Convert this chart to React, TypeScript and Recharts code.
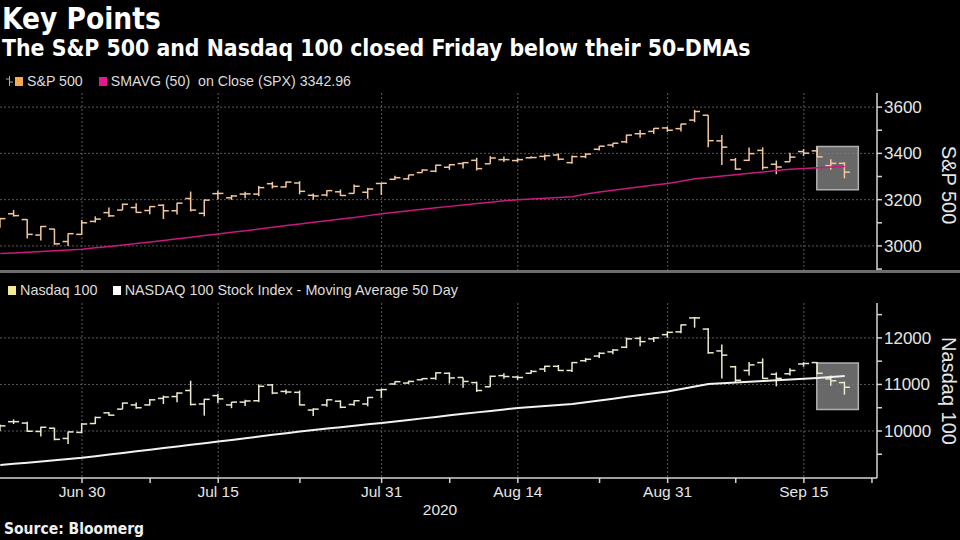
import { ComposedChart, Bar, Line, XAxis, YAxis, CartesianGrid, ReferenceArea } from 'recharts'

const TRADING_DAYS = [
  '2020-06-22', '2020-06-23', '2020-06-24', '2020-06-25', '2020-06-26', '2020-06-29', '2020-06-30',
  '2020-07-01', '2020-07-02', '2020-07-06', '2020-07-07', '2020-07-08', '2020-07-09', '2020-07-10',
  '2020-07-13', '2020-07-14', '2020-07-15', '2020-07-16', '2020-07-17', '2020-07-20', '2020-07-21',
  '2020-07-22', '2020-07-23', '2020-07-24', '2020-07-27', '2020-07-28', '2020-07-29', '2020-07-30',
  '2020-07-31', '2020-08-03', '2020-08-04', '2020-08-05', '2020-08-06', '2020-08-07', '2020-08-10',
  '2020-08-11', '2020-08-12', '2020-08-13', '2020-08-14', '2020-08-17', '2020-08-18', '2020-08-19',
  '2020-08-20', '2020-08-21', '2020-08-24', '2020-08-25', '2020-08-26', '2020-08-27', '2020-08-28',
  '2020-08-31', '2020-09-01', '2020-09-02', '2020-09-03', '2020-09-04', '2020-09-08', '2020-09-09',
  '2020-09-10', '2020-09-11', '2020-09-14', '2020-09-15', '2020-09-16', '2020-09-17', '2020-09-18',
]

// S&P 500 daily bars
const SPX_OPEN = [
  3094, 3139, 3114, 3047, 3073, 3019, 3050, 3106, 3144, 3155, 3166, 3153, 3176, 3152, 3205, 3141,
  3226, 3208, 3224, 3224, 3269, 3255, 3272, 3219, 3220, 3234, 3227, 3232, 3270, 3288, 3290, 3317,
  3323, 3340, 3356, 3370, 3355, 3373, 3369, 3381, 3387, 3393, 3360, 3386, 3418, 3436, 3450, 3485,
  3495, 3510, 3507, 3544, 3565, 3454, 3372, 3370, 3413, 3353, 3364, 3408, 3411, 3347, 3357,
]
const SPX_HIGH = [
  3121, 3155, 3115, 3086, 3074, 3054, 3112, 3128, 3166, 3183, 3184, 3172, 3180, 3187, 3235, 3201,
  3238, 3220, 3234, 3259, 3277, 3279, 3280, 3227, 3241, 3244, 3265, 3251, 3272, 3303, 3307, 3331,
  3351, 3353, 3363, 3381, 3388, 3387, 3379, 3388, 3395, 3400, 3391, 3400, 3432, 3444, 3481, 3501,
  3509, 3515, 3528, 3588, 3565, 3479, 3380, 3425, 3426, 3369, 3403, 3419, 3429, 3375, 3362,
]
const SPX_LOW = [
  3079, 3127, 3032, 3024, 3005, 3000, 3048, 3101, 3125, 3155, 3143, 3137, 3116, 3136, 3149, 3128,
  3201, 3199, 3206, 3215, 3248, 3253, 3223, 3200, 3214, 3216, 3227, 3204, 3220, 3285, 3286, 3317,
  3318, 3329, 3335, 3326, 3355, 3363, 3362, 3379, 3370, 3370, 3355, 3379, 3413, 3426, 3444, 3468,
  3484, 3493, 3495, 3535, 3427, 3350, 3329, 3367, 3329, 3310, 3364, 3389, 3384, 3329, 3292,
]
const SPX_CLOSE = [
  3118, 3131, 3050, 3084, 3009, 3053, 3100, 3116, 3130, 3180, 3145, 3170, 3152, 3185, 3155, 3198,
  3227, 3216, 3225, 3252, 3257, 3276, 3236, 3216, 3239, 3218, 3258, 3246, 3271, 3295, 3307, 3328,
  3349, 3351, 3360, 3334, 3380, 3373, 3373, 3382, 3390, 3375, 3386, 3397, 3431, 3444, 3479, 3485,
  3508, 3500, 3527, 3581, 3455, 3427, 3332, 3399, 3339, 3341, 3384, 3401, 3385, 3357, 3319,
]
const SPX_SMA50 = [
  2967, 2970, 2973, 2976, 2979, 2982, 2986, 2992, 2998, 3004, 3011, 3017, 3024, 3031, 3038, 3045,
  3052, 3059, 3066, 3073, 3081, 3088, 3095, 3102, 3109, 3116, 3123, 3131, 3139, 3146, 3152, 3159,
  3165, 3171, 3177, 3183, 3189, 3195, 3200, 3203, 3206, 3209, 3213, 3224, 3233, 3241, 3248, 3256,
  3263, 3270, 3280, 3290, 3296, 3302, 3308, 3314, 3320, 3326, 3331, 3335, 3338, 3341, 3343,
]

// Nasdaq 100 daily bars
const NDX_OPEN = [
  10020, 10200, 10170, 9990, 10060, 9840, 9970, 10160, 10390, 10470, 10560, 10560, 10700, 10740,
  10870, 10580, 10760, 10560, 10620, 10650, 10990, 10850, 10830, 10450, 10560, 10640, 10570, 10580,
  10880, 11010, 11030, 11100, 11130, 11240, 11150, 11040, 10950, 11190, 11160, 11240, 11330, 11390,
  11300, 11510, 11610, 11700, 11800, 11990, 11980, 12070, 12130, 12430, 12190, 11720, 11380, 11300,
  11470, 11220, 11230, 11440, 11470, 11120, 11040,
]
const NDX_HIGH = [
  10140, 10250, 10200, 10090, 10070, 9990, 10170, 10310, 10410, 10610, 10610, 10690, 10760, 10830,
  11080, 10690, 10800, 10625, 10670, 11000, 11010, 10890, 10870, 10490, 10680, 10660, 10660, 10730,
  10910, 11070, 11080, 11140, 11260, 11260, 11150, 11060, 11190, 11240, 11190, 11310, 11400, 11420,
  11480, 11570, 11690, 11760, 12010, 12030, 12020, 12140, 12290, 12450, 12210, 11860, 11400, 11480,
  11560, 11260, 11350, 11480, 11480, 11190, 11060,
]
const NDX_LOW = [
  10000, 10150, 9980, 9880, 9800, 9720, 9950, 10150, 10330, 10470, 10480, 10550, 10580, 10620,
  10550, 10330, 10600, 10490, 10535, 10620, 10790, 10790, 10550, 10320, 10520, 10490, 10540, 10530,
  10710, 10990, 11010, 11090, 11100, 11020, 10930, 10840, 10950, 11120, 11100, 11230, 11270, 11290,
  11270, 11480, 11570, 11650, 11780, 11820, 11910, 12000, 12100, 12220, 11660, 11130, 11040, 11190,
  11120, 10960, 11190, 11380, 11220, 10970, 10780,
]
const NDX_CLOSE = [
  10110, 10200, 9995, 10080, 9820, 9980, 10150, 10290, 10340, 10600, 10500, 10670, 10730, 10815,
  10570, 10680, 10690, 10620, 10645, 10960, 10815, 10837, 10560, 10470, 10670, 10510, 10650, 10720,
  10890, 11060, 11065, 11125, 11250, 11140, 11065, 10870, 11175, 11170, 11150, 11280, 11390, 11300,
  11470, 11540, 11670, 11740, 11980, 11920, 12000, 12120, 12280, 12430, 11680, 11630, 11090, 11420,
  11130, 11130, 11300, 11450, 11240, 11080, 10940,
]
const NDX_MA50 = [
  9270, 9295, 9320, 9345, 9370, 9397, 9424, 9458, 9493, 9528, 9563, 9598, 9633, 9668, 9703, 9738,
  9772, 9808, 9845, 9881, 9918, 9954, 9990, 10021, 10052, 10082, 10113, 10143, 10174, 10206, 10238,
  10271, 10303, 10336, 10368, 10400, 10432, 10463, 10495, 10516, 10537, 10559, 10580, 10618, 10657,
  10695, 10734, 10773, 10811, 10850, 10903, 10957, 11010, 11026, 11042, 11059, 11075, 11090, 11105,
  11120, 11140, 11160, 11180,
]

const X_LABEL_DAYS = ['2020-06-30', '2020-07-15', '2020-07-31', '2020-08-14', '2020-08-31', '2020-09-15']
const X_LABELS = ['Jun 30', 'Jul 15', 'Jul 31', 'Aug 14', 'Aug 31', 'Sep 15']
const X_MINOR_TICKS = [11, 22, 33, 44, 54, 64]

const SPX_TICKS = [2900, 3000, 3100, 3200, 3300, 3400, 3500, 3600]
const SPX_LABELS = [3000, 3200, 3400, 3600]
const NDX_TICKS = [9500, 10000, 10500, 11000, 11500, 12000, 12500]
const NDX_LABELS = [10000, 11000, 12000]

const X_DOMAIN = [-0.02, 64.37]
const SPX_DOMAIN = [2896, 3661]
const NDX_DOMAIN = [8990, 12750]
const SPX_BOX = { x1: 59.95, x2: 63, y1: 3243, y2: 3430 }
const NDX_BOX = { x1: 59.95, x2: 63, y1: 10462, y2: 11462 }

const majorIdx = X_LABEL_DAYS.map((d) => TRADING_DAYS.indexOf(d))
const allXTicks = [...majorIdx, ...X_MINOR_TICKS].sort((a, b) => a - b)

const rows = TRADING_DAYS.map((day, i) => ({
  i,
  day,
  spxRange: [SPX_LOW[i], SPX_HIGH[i]],
  spxO: SPX_OPEN[i],
  spxH: SPX_HIGH[i],
  spxL: SPX_LOW[i],
  spxC: SPX_CLOSE[i],
  spxSma: SPX_SMA50[i],
  ndxRange: [NDX_LOW[i], NDX_HIGH[i]],
  ndxO: NDX_OPEN[i],
  ndxH: NDX_HIGH[i],
  ndxL: NDX_LOW[i],
  ndxC: NDX_CLOSE[i],
  ndxMa: NDX_MA50[i],
}))

const SANS = "'Liberation Sans', Arial, sans-serif"
const HEAD = "'DejaVu Sans Condensed', 'DejaVu Sans', sans-serif"
const AXIS = '#d4d4d4'
const GRID = '#5a5a5a'

function OhlcBar(props: any) {
  const { x, y, width, height, payload, prefix, color } = props
  if (x == null || y == null) return null
  const hi = payload[prefix + 'H']
  const lo = payload[prefix + 'L']
  const top = Math.min(y, y + height)
  const bottom = Math.max(y, y + height)
  const toPx = (v: number) => (hi === lo ? top : top + ((hi - v) / (hi - lo)) * (bottom - top))
  const cx = x + width / 2
  const oy = toPx(payload[prefix + 'O'])
  const cy = toPx(payload[prefix + 'C'])
  return (
    <g stroke={color} strokeWidth={1.5}>
      <line x1={cx} x2={cx} y1={top} y2={bottom} />
      <line x1={cx - 5.5} x2={cx} y1={oy} y2={oy} />
      <line x1={cx} x2={cx + 5.5} y1={cy} y2={cy} />
    </g>
  )
}

function makeYTick(labels: number[]) {
  return (props: any) => {
    const { x, y, payload } = props
    if (!labels.includes(payload.value)) return <g />
    return (
      <text x={x} y={y} dy={6} textAnchor="start" fill="#e6e6e6" fontSize={17} fontFamily={SANS}>
        {payload.value}
      </text>
    )
  }
}

function XTick(props: any) {
  const { x, y, payload } = props
  const k = majorIdx.indexOf(payload.value)
  if (k < 0) return <g />
  return (
    <text x={x} y={y} dy={12} textAnchor="middle" fill="#e6e6e6" fontSize={15.5} fontFamily={SANS}>
      {X_LABELS[k]}
    </text>
  )
}

function Swatch({ color }: { color: string }) {
  return <span style={{ display: 'inline-block', width: 8, height: 9, background: color, marginRight: 4 }} />
}

export default function App() {
  return (
    <div
      style={{
        position: 'absolute',
        left: 0,
        top: 0,
        width: 960,
        height: 540,
        background: '#000',
        overflow: 'hidden',
        color: '#fff',
      }}
    >
      <div style={{ position: 'absolute', left: 2, top: 3, fontFamily: HEAD, fontWeight: 700, fontSize: 29.5, lineHeight: '32px', fontStretch: 'condensed' }}>
        Key Points
      </div>
      <div style={{ position: 'absolute', left: 2, top: 35, fontFamily: HEAD, fontWeight: 700, fontSize: 22.8, lineHeight: '26px', fontStretch: 'condensed' }}>
        The S&amp;P 500 and Nasdaq 100 closed Friday below their 50-DMAs
      </div>

      <div style={{ position: 'absolute', left: 5, top: 72, fontFamily: SANS, fontSize: 14.2, color: '#dcdcdc', whiteSpace: 'nowrap', display: 'flex', alignItems: 'center', height: 18 }}>
        <svg width={9} height={12} style={{ marginRight: 1 }}>
          <g stroke="#aaa" strokeWidth={1}>
            <line x1={4.5} x2={4.5} y1={1} y2={11} />
            <line x1={1} x2={4.5} y1={4} y2={4} />
            <line x1={4.5} x2={8} y1={7} y2={7} />
          </g>
        </svg>
        <Swatch color="#f6a94e" />
        <span style={{ marginRight: 16 }}>S&amp;P 500</span>
        <Swatch color="#e8178f" />
        <span>SMAVG (50)&nbsp; on Close (SPX) 3342.96</span>
      </div>

      <div style={{ position: 'absolute', left: 8, top: 281, fontFamily: SANS, fontSize: 14.4, color: '#dcdcdc', whiteSpace: 'nowrap', display: 'flex', alignItems: 'center', height: 18 }}>
        <Swatch color="#f2ea96" />
        <span style={{ marginRight: 15 }}>Nasdaq 100</span>
        <Swatch color="#ffffff" />
        <span>NASDAQ 100 Stock Index - Moving Average 50 Day</span>
      </div>

      <div style={{ position: 'absolute', left: 0, top: 0 }}>
        <ComposedChart width={960} height={275} data={rows} margin={{ top: 93, right: 0, bottom: 5, left: 0 }}>
          <CartesianGrid stroke={GRID} strokeDasharray="2 2" horizontalValues={SPX_LABELS} verticalValues={majorIdx} />
          <XAxis type="number" dataKey="i" domain={X_DOMAIN} allowDataOverflow hide />
          <YAxis
            orientation="right"
            width={83}
            domain={SPX_DOMAIN}
            allowDataOverflow
            ticks={SPX_TICKS}
            interval={0}
            tick={makeYTick(SPX_LABELS)}
            tickSize={5}
            tickLine={{ stroke: AXIS, strokeWidth: 1.5 }}
            axisLine={{ stroke: AXIS, strokeWidth: 1.5 }}
          />
          <ReferenceArea {...SPX_BOX} fill="#7a7a7a" fillOpacity={0.85} stroke="#b0b0b0" strokeWidth={1.5} />
          <Line dataKey="spxSma" stroke="#c8197f" strokeWidth={1.5} dot={false} isAnimationActive={false} />
          <Bar
            dataKey="spxRange"
            barSize={11}
            isAnimationActive={false}
            shape={(p: any) => <OhlcBar {...p} prefix="spx" color="#f3c79c" />}
          />
        </ComposedChart>
      </div>

      <div style={{ position: 'absolute', left: 0, top: 270, width: 960, height: 3, background: '#6e6e6e' }} />

      <div style={{ position: 'absolute', left: 0, top: 272 }}>
        <ComposedChart width={960} height={268} data={rows} margin={{ top: 31, right: 0, bottom: 22, left: 0 }}>
          <CartesianGrid stroke={GRID} strokeDasharray="2 2" horizontalValues={NDX_LABELS} verticalValues={majorIdx} />
          <XAxis
            type="number"
            dataKey="i"
            domain={X_DOMAIN}
            allowDataOverflow
            ticks={allXTicks}
            interval={0}
            height={40}
            tick={XTick}
            tickSize={5}
            tickLine={{ stroke: AXIS, strokeWidth: 1.5 }}
            axisLine={{ stroke: AXIS, strokeWidth: 1.5 }}
          />
          <YAxis
            orientation="right"
            width={83}
            domain={NDX_DOMAIN}
            allowDataOverflow
            ticks={NDX_TICKS}
            interval={0}
            tick={makeYTick(NDX_LABELS)}
            tickSize={5}
            tickLine={{ stroke: AXIS, strokeWidth: 1.5 }}
            axisLine={{ stroke: AXIS, strokeWidth: 1.5 }}
          />
          <ReferenceArea {...NDX_BOX} fill="#7a7a7a" fillOpacity={0.85} stroke="#b0b0b0" strokeWidth={1.5} />
          <Line dataKey="ndxMa" stroke="#f2f2f2" strokeWidth={2} dot={false} isAnimationActive={false} />
          <Bar
            dataKey="ndxRange"
            barSize={11}
            isAnimationActive={false}
            shape={(p: any) => <OhlcBar {...p} prefix="ndx" color="#ece8cc" />}
          />
        </ComposedChart>
      </div>

      <div style={{ position: 'absolute', left: 948, top: 185, transform: 'translate(-50%, -50%) rotate(90deg)', fontFamily: SANS, fontSize: 20, color: '#e6e6e6', whiteSpace: 'nowrap' }}>
        S&amp;P 500
      </div>
      <div style={{ position: 'absolute', left: 948, top: 391, transform: 'translate(-50%, -50%) rotate(90deg)', fontFamily: SANS, fontSize: 20, color: '#e6e6e6', whiteSpace: 'nowrap' }}>
        Nasdaq 100
      </div>

      <div style={{ position: 'absolute', left: 440, top: 510, transform: 'translate(-50%, -50%)', fontFamily: SANS, fontSize: 15.5, color: '#e6e6e6' }}>
        2020
      </div>
      <div style={{ position: 'absolute', left: 4, top: 520, fontFamily: HEAD, fontWeight: 700, fontSize: 15.5, lineHeight: '18px', fontStretch: 'condensed', color: '#f0f0f0' }}>
        Source: Bloomerg
      </div>
    </div>
  )
}
